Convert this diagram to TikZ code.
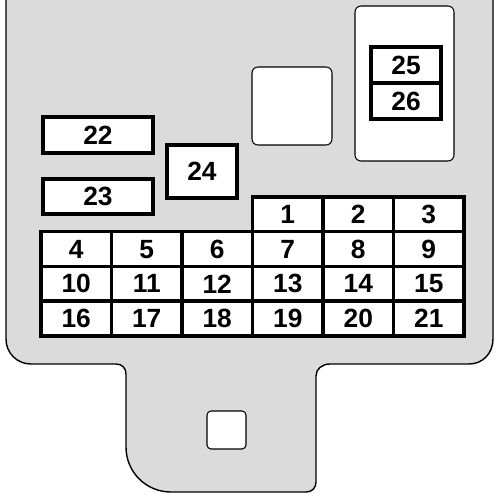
\documentclass[tikz,border=0pt]{standalone}
\usepackage{fontspec}
\setmainfont{Liberation Sans}
\definecolor{boxgray}{rgb}{0.86,0.86,0.86}

\begin{document}
\begin{tikzpicture}[x=0.02cm, y=-0.02cm,
	fuse/.style={draw, line width=2pt, fill=white, inner sep=0pt, minimum width=1.41cm, minimum height=0.695cm, font=\fontsize{15}{17}\selectfont\bfseries},
	cover/.style={draw, line width=0.6pt, fill=white, rounded corners=0.12cm, inner sep=0pt}]
	\useasboundingbox (0,0) rectangle (500,500);
	% housing outline
	\draw[line width=0.8pt, fill=boxgray] (6,0) -- (6,339) .. controls (6,353) and (17,364) .. (31,364) -- (116,364)
		.. controls (122,364) and (126,368) .. (126,374) -- (126,447) .. controls (126,472) and (146,492) .. (171,492)
		-- (306,492) .. controls (312,492) and (316,488) .. (316,482) -- (316,376) .. controls (316,369) and (322,364) .. (330,364)
		-- (469,364) .. controls (483,364) and (493,353) .. (493,339) -- (493,0);
	\node[cover, minimum width=1.98cm, minimum height=3.1cm] (relay) at (404.5,83.5) {};
	\node[cover, minimum width=1.6cm, minimum height=1.56cm] (socket) at (292,106) {};
	\node[cover, minimum width=0.78cm, minimum height=0.76cm, rounded corners=0.08cm] (clip) at (226.5,430) {};

	\node[fuse, minimum width=2.2cm, minimum height=0.72cm] (f22) at (98,135) {22};
	\node[fuse, minimum width=2.2cm, minimum height=0.7cm] (f23) at (98,196.5) {23};
	\node[fuse, minimum width=1.4cm, minimum height=1.06cm] (f24) at (202,171.5) {24};
	\node[fuse, minimum width=1.4cm, minimum height=0.72cm] (f25) at (406,65) {25};
	\node[fuse, minimum width=1.4cm, minimum height=0.72cm] (f26) at (406,101) {26};

	\node[fuse] (f1) at (287.75,214.4) {1};
	\node[fuse] (f2) at (358.25,214.4) {2};
	\node[fuse] (f3) at (428.75,214.4) {3};

	\node[fuse] (f4) at (76.25,249.1) {4};
	\node[fuse] (f5) at (146.75,249.1) {5};
	\node[fuse] (f6) at (217.25,249.1) {6};
	\node[fuse] (f7) at (287.75,249.1) {7};
	\node[fuse] (f8) at (358.25,249.1) {8};
	\node[fuse] (f9) at (428.75,249.1) {9};

	\node[fuse] (f10) at (76.25,283.9) {10};
	\node[fuse] (f11) at (146.75,283.9) {11};
	\node[fuse] (f12) at (217.25,283.9) {12};
	\node[fuse] (f13) at (287.75,283.9) {13};
	\node[fuse] (f14) at (358.25,283.9) {14};
	\node[fuse] (f15) at (428.75,283.9) {15};

	\node[fuse] (f16) at (76.25,318.6) {16};
	\node[fuse] (f17) at (146.75,318.6) {17};
	\node[fuse] (f18) at (217.25,318.6) {18};
	\node[fuse] (f19) at (287.75,318.6) {19};
	\node[fuse] (f20) at (358.25,318.6) {20};
	\node[fuse] (f21) at (428.75,318.6) {21};
\end{tikzpicture}
\end{document}
